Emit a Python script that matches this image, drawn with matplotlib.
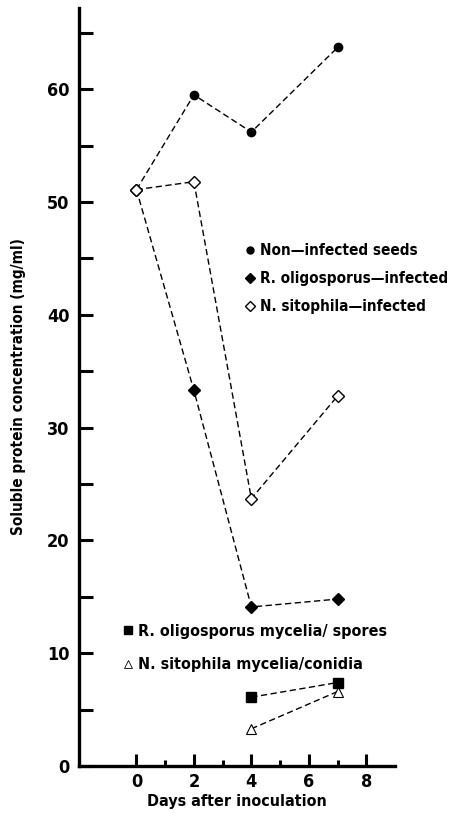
import matplotlib
matplotlib.use("Agg")
import matplotlib.pyplot as plt
from matplotlib.lines import Line2D
from matplotlib.ticker import FixedLocator

plt.rcParams['font.family'] = ['DejaVu Sans']
plt.rcParams['font.stretch'] = 'condensed'
plt.rcParams['font.weight'] = 'bold'

days = [0, 2, 4, 7]
non_infected = [51.1, 59.5, 56.2, 63.7]
r_oligo_infected = [51.1, 33.3, 14.1, 14.8]
n_sito_infected = [51.1, 51.8, 23.7, 32.8]
myc_days = [4, 7]
r_oligo_mycelia = [6.1, 7.4]
n_sito_mycelia = [3.3, 6.6]

labels1 = ["Non\u2014infected seeds", "R. oligosporus\u2014infected", "N. sitophila\u2014infected"]
labels2 = ["R. oligosporus mycelia/ spores", "N. sitophila mycelia/conidia"]

fig = plt.figure(figsize=(4.52, 8.13), dpi=100)
ax = fig.add_axes([79/452, 1-766/813, (395-79)/452, (766-8)/813])
ax.set_xlim(-2, 9)
ax.set_ylim(0, 67.2)

dash = (0, (4.5, 2.5))
lw = 1.0
ax.plot(days, non_infected, linestyle=dash, color='black', lw=lw,
        marker='o', ms=6, mfc='black', mec='black', zorder=3)
ax.plot(days, r_oligo_infected, linestyle=dash, color='black', lw=lw,
        marker='D', ms=6.5, mfc='black', mec='black', zorder=3)
ax.plot(days, n_sito_infected, linestyle=dash, color='black', lw=lw,
        marker='D', ms=6.5, mfc='white', mec='black', mew=1.0, zorder=3)
ax.plot(myc_days, r_oligo_mycelia, linestyle=dash, color='black', lw=lw,
        marker='s', ms=6.5, mfc='black', mec='black', zorder=3)
ax.plot(myc_days, n_sito_mycelia, linestyle=dash, color='black', lw=lw,
        marker='^', ms=7, mfc='white', mec='black', mew=0.8, zorder=3)

for s in ['top', 'right']:
    ax.spines[s].set_visible(False)
for s in ['left', 'bottom']:
    ax.spines[s].set_linewidth(2.4)

ax.yaxis.set_major_locator(FixedLocator([0, 10, 20, 30, 40, 50, 60]))
ax.yaxis.set_minor_locator(FixedLocator([5, 15, 25, 35, 45, 55, 65]))
ax.xaxis.set_major_locator(FixedLocator([0, 2, 4, 6, 8]))
ax.xaxis.set_minor_locator(FixedLocator([1, 3, 5, 7]))

ax.tick_params(axis='y', which='both', direction='in', length=10, width=2.2, labelsize=13, pad=7)
ax.tick_params(axis='x', which='major', direction='in', length=9, width=2.2, labelsize=13, pad=5)
ax.tick_params(axis='x', which='minor', direction='in', length=4, width=2.2)
for t in ax.get_xticklabels() + ax.get_yticklabels():
    t.set_fontweight('bold')
    t.set_fontstretch('condensed')

ax.set_xlabel("Days after inoculation", fontsize=11.5, fontweight='bold', fontstretch='condensed', labelpad=2)
ax.set_ylabel("Soluble protein concentration (mg/ml)", fontsize=11, fontweight='bold',
              fontstretch='condensed', labelpad=15)

prop = {'weight': 'bold', 'size': 11, 'stretch': 'condensed'}
h1 = [Line2D([], [], ls='none', marker='o', ms=5, mfc='black', mec='black'),
      Line2D([], [], ls='none', marker='D', ms=5, mfc='black', mec='black'),
      Line2D([], [], ls='none', marker='D', ms=5, mfc='white', mec='black')]
leg1 = ax.legend(h1, labels1, loc='upper left', bbox_to_anchor=(245/452, 1-243/813),
                 bbox_transform=fig.transFigure, frameon=False, handlelength=0.6,
                 handletextpad=0.35, labelspacing=0.85, borderpad=0, borderaxespad=0,
                 prop=prop)
ax.add_artist(leg1)
h2 = [Line2D([], [], ls='none', marker='s', ms=6, mfc='black', mec='black'),
      Line2D([], [], ls='none', marker='^', ms=6, mfc='white', mec='black', mew=0.6)]
ax.legend(h2, labels2, loc='upper left', bbox_to_anchor=(123/452, 1-624/813),
          bbox_transform=fig.transFigure, frameon=False, handlelength=0.6,
          handletextpad=0.35, labelspacing=1.15, borderpad=0, borderaxespad=0,
          prop={'weight': 'bold', 'size': 11.5, 'stretch': 'condensed'})

fig.savefig("out.png", dpi=100)
